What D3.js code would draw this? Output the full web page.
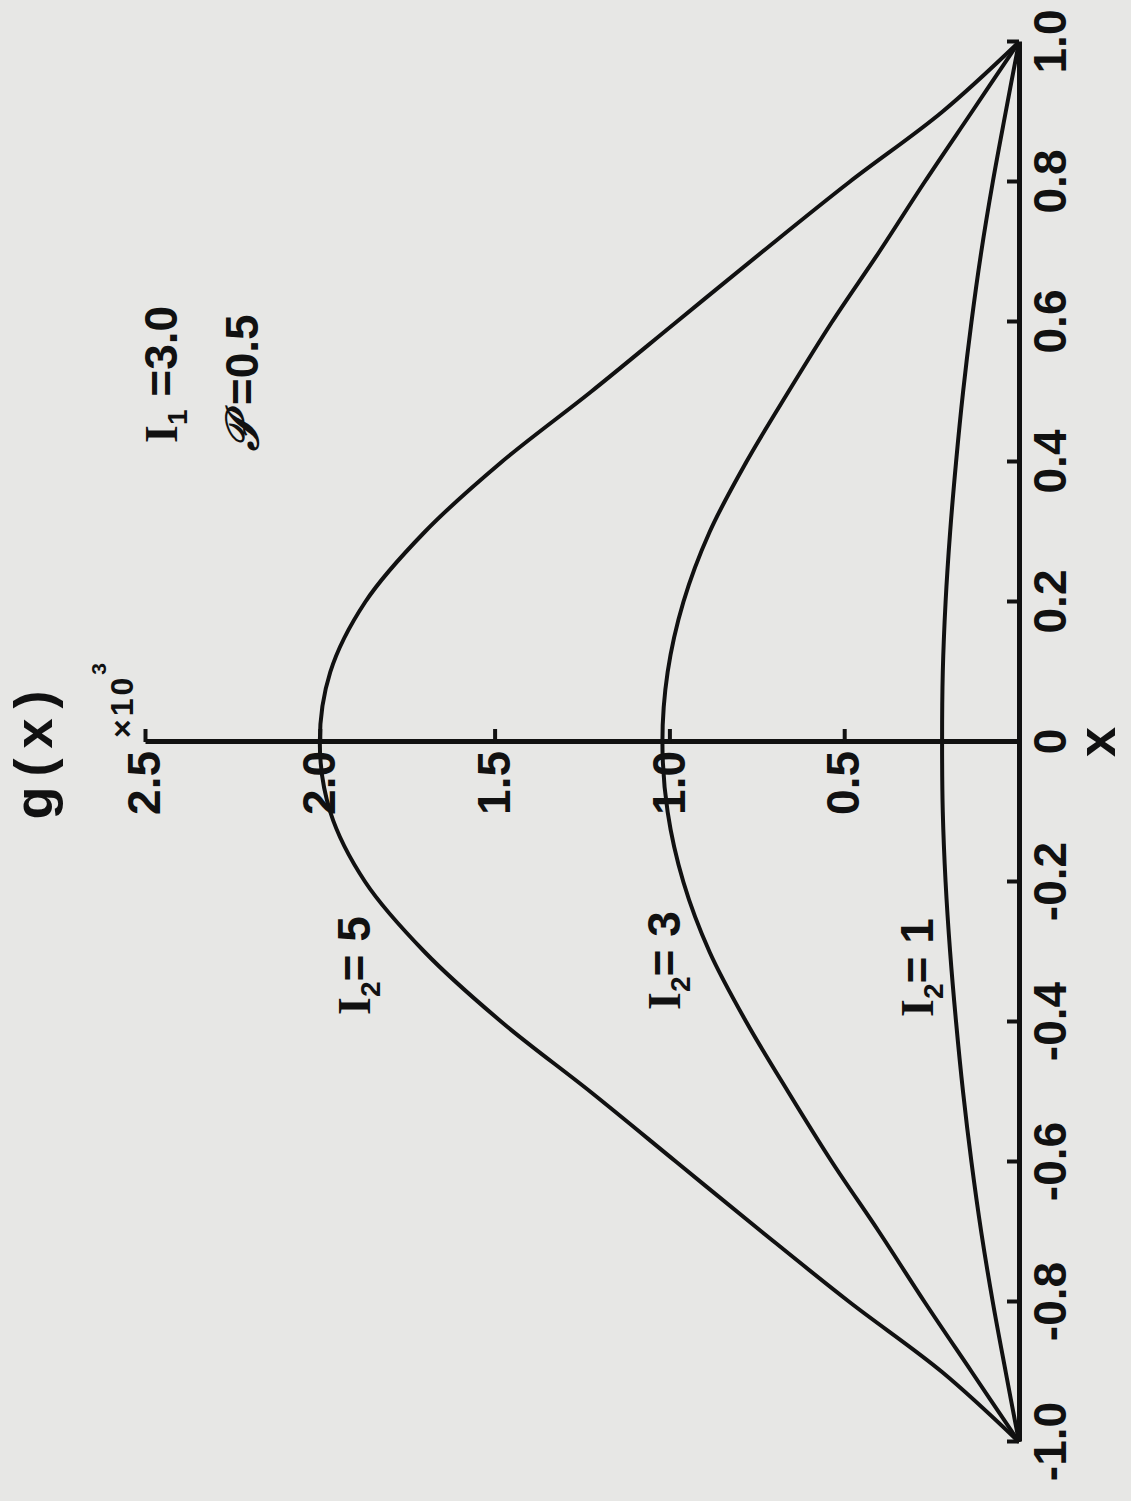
<!DOCTYPE html>
<html>
<head>
<meta charset="utf-8">
<script src="https://cdn.jsdelivr.net/npm/d3@7"></script>
<style>
  html, body { margin: 0; padding: 0; background: #e7e7e5; }
  text { font-family: "Liberation Sans", Arial, sans-serif; font-weight: bold; fill: #111; }
</style>
</head>
<body>
<script>
// values, x from -1 to 1 in steps of 0.1
const xValues = [-1.0, -0.9, -0.8, -0.7, -0.6, -0.5, -0.4, -0.3, -0.2, -0.1, 0,
                  0.1, 0.2, 0.3, 0.4, 0.5, 0.6, 0.7, 0.8, 0.9, 1.0];
const gI2_5 = [0, 0.22, 0.485, 0.735, 0.98, 1.225, 1.48, 1.70, 1.87, 1.97, 2.00,
               1.97, 1.87, 1.70, 1.48, 1.225, 0.98, 0.735, 0.485, 0.22, 0];
const gI2_3 = [0, 0.135, 0.27, 0.40, 0.535, 0.66, 0.78, 0.885, 0.96, 1.005, 1.02,
               1.005, 0.96, 0.885, 0.78, 0.66, 0.535, 0.40, 0.27, 0.135, 0];
const gI2_1 = [0, 0.038, 0.075, 0.108, 0.136, 0.16, 0.18, 0.197, 0.21, 0.218, 0.22,
               0.218, 0.21, 0.197, 0.18, 0.16, 0.136, 0.108, 0.075, 0.038, 0];

const xTicks = [-1.0, -0.8, -0.6, -0.4, -0.2, 0, 0.2, 0.4, 0.6, 0.8, 1.0];
const xTickLabels = ["-1.0", "-0.8", "-0.6", "-0.4", "-0.2", "0", "0.2", "0.4", "0.6", "0.8", "1.0"];
const gTicks = [0.5, 1.0, 1.5, 2.0, 2.5];
const gTickLabels = ["0.5", "1.0", "1.5", "2.0", "2.5"];

const series = [
  { name: "5", values: gI2_5, labelAt: [486, 370] },
  { name: "3", values: gI2_3, labelAt: [491, 680] },
  { name: "1", values: gI2_1, labelAt: [484, 933] }
];

const width = 1131, height = 1501;

const svg = d3.select("body").append("svg").attr("width", width).attr("height", height);
svg.append("rect").attr("width", width).attr("height", height).attr("fill", "#e7e7e5");

// the figure is drawn upright and then turned a quarter turn counter-clockwise
const plot = svg.append("g").attr("transform", `translate(0, ${height}) rotate(-90)`);

let x = d3.scaleLinear().domain([-1, 1]).range([59, 1459]);
let y = d3.scaleLinear().domain([0, 2.5]).range([1019, 145]);

let line = d3.line()
    .x((d, i) => x(xValues[i]))
    .y(d => y(d))
    .curve(d3.curveCatmullRom.alpha(0.5));

plot.selectAll(".curve").data(series).enter().append("path")
    .attr("class", "curve")
    .attr("d", d => line(d.values))
    .attr("fill", "none")
    .attr("stroke", "#111")
    .attr("stroke-width", 4)
    .attr("stroke-linejoin", "round");

// x axis along g = 0
let xAxis = plot.append("g")
    .attr("transform", `translate(0, ${y(0)})`)
    .call(d3.axisBottom(x).tickValues(xTicks).tickSizeInner(-12).tickSizeOuter(0).tickPadding(14)
        .tickFormat((d, i) => xTickLabels[i]));

// g axis through x = 0
let gAxis = plot.append("g")
    .attr("transform", `translate(${x(0)}, 0)`)
    .call(d3.axisLeft(y).tickValues(gTicks).tickSizeInner(-13).tickSizeOuter(0).tickPadding(9)
        .tickFormat((d, i) => gTickLabels[i]));

[xAxis, gAxis].forEach(a => {
  a.select(".domain").attr("stroke", "#111").attr("stroke-width", 5);
  a.selectAll(".tick line").attr("stroke", "#111").attr("stroke-width", 4);
  a.selectAll(".tick text").attr("font-size", 46).attr("fill", "#111")
      .style("font-family", "'Liberation Sans', Arial, sans-serif").style("font-weight", "bold");
});
xAxis.selectAll(".tick text").attr("dy", "0.72em");

// axis titles
plot.append("text").attr("x", x(0)).attr("y", 1115).attr("text-anchor", "middle")
    .attr("font-size", 54).text("x");

plot.append("text").attr("x", x(0) - 8).attr("y", 52).attr("text-anchor", "middle")
    .attr("font-size", 54).attr("letter-spacing", 10).text("g(x)");

let scaleNote = plot.append("text").attr("x", x(0) + 4).attr("y", 133).attr("font-size", 32)
    .attr("letter-spacing", 3);
scaleNote.append("tspan").text("×10");
scaleNote.append("tspan").attr("dy", -27).attr("font-size", 21).text("3");

// curve labels
function labelI(sel, sub, rest) {
  sel.append("tspan").style("font-family", "'Liberation Serif', serif").text("I");
  sel.append("tspan").attr("dy", 10).attr("font-size", 28).text(sub);
  sel.append("tspan").attr("dy", -10).text(rest);
}

series.forEach(s => {
  let t = plot.append("text").attr("x", s.labelAt[0]).attr("y", s.labelAt[1]).attr("font-size", 46);
  labelI(t, "2", "= " + s.name);
});

let i1 = plot.append("text").attr("x", 1058).attr("y", 177).attr("font-size", 46);
labelI(i1, "1", " =3.0");

let p = plot.append("text").attr("x", 1050).attr("y", 258).attr("font-size", 46);
p.append("tspan").style("font-family", "'DejaVu Serif', 'DejaVu Sans', serif").style("font-style", "italic").text("𝒫");
p.append("tspan").text(" =0.5");
</script>
</body>
</html>
